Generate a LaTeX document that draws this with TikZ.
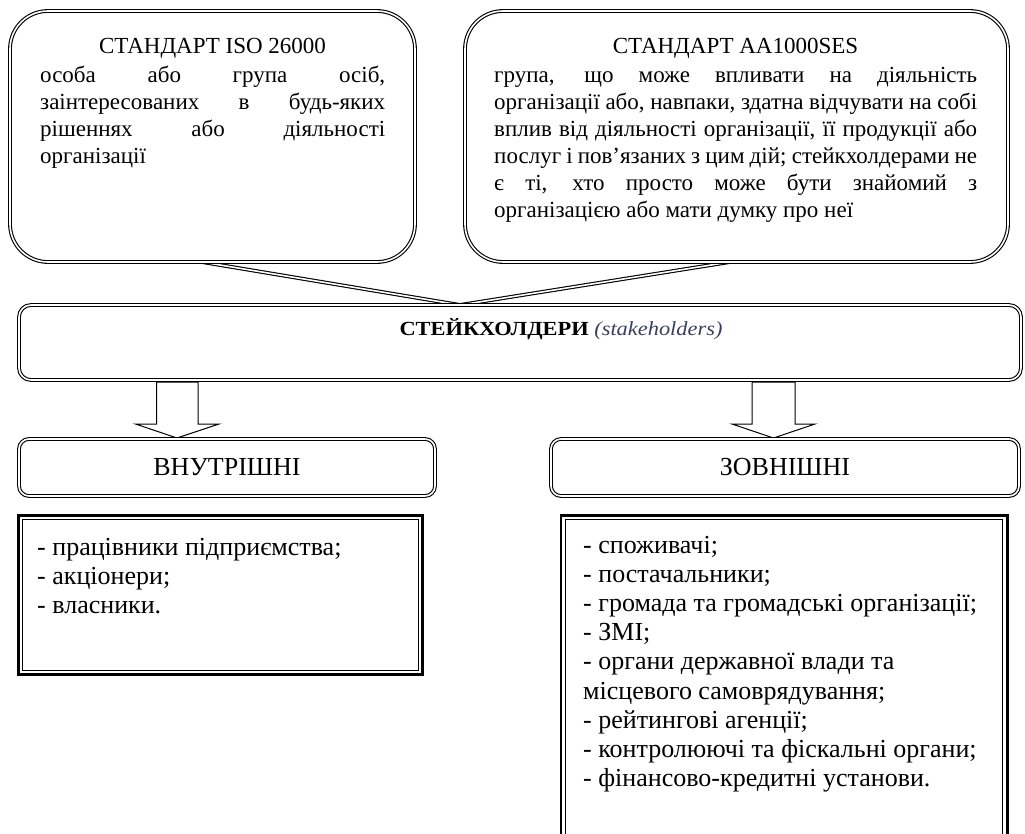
\documentclass[tikz,border=0pt]{standalone}
\usepackage{fontspec}
\usepackage{graphicx}
\setmainfont{Liberation Serif}
\usetikzlibrary{calc}
\definecolor{stkblue}{rgb}{0.22,0.25,0.38}
\newlength\jw
\newcommand\jline[1]{\hbox to\jw{#1}}
\newcommand\textlines[3]{\vtop{\baselineskip=#1\lineskiplimit=-100pt\lineskip=0pt\jw=#2\relax #3}}
\tikzset{
  dbl/.style={draw, line width=1.1pt, double=white, double distance=1.6pt, inner sep=0pt, outer sep=0pt},
  callout/.style={dbl, rounded corners=38pt},
  headbox/.style={dbl, rounded corners=10pt, font=\fontsize{26}{30}\selectfont},
  listbox/.style={draw, line width=2.6pt, inner sep=0pt, outer sep=0pt},
  blockarrow/.style={draw, line width=1pt, fill=white, line join=miter},
  bodytext/.style={inner sep=0pt, font=\fontsize{23}{27}\selectfont},
  listtext/.style={inner sep=0pt, font=\fontsize{26}{29}\selectfont}
}
\begin{document}
\begin{tikzpicture}[x=1pt,y=-1pt]
\clip (0,0) rectangle (1025,834);
\fill[white] (0,0) rectangle (1025,834);

% callout pointers
\coordinate (isoP) at (202,262);
\coordinate (aaP) at (730,262);
\coordinate (tip) at (460,305);
\draw[dbl, line join=miter] (isoP) -- (tip) -- (aaP);

% callouts
\node[callout, minimum width=405pt, minimum height=251pt] (iso) at (212.5,136.5) {};
\node[callout, minimum width=543pt, minimum height=251pt] (aa) at (736.5,136.5) {};

\node[bodytext, anchor=base] (isotitle) at (212.5,54) {СТАНДАРТ ISO 26000};
\node[bodytext, anchor=base west] (isobody) at (40,83) {\textlines{27pt}{345pt}{%
\jline{особа або група осіб,}%
\jline{заінтересованих в будь-яких}%
\jline{рішеннях або діяльності}%
\hbox{організації}}};

\node[bodytext, anchor=base] (aatitle) at (735.5,54) {СТАНДАРТ AA1000SES};
\node[bodytext, anchor=base west] (aabody) at (494,83) {\textlines{27pt}{483pt}{%
\jline{група, що може впливати на діяльність}%
\jline{організації або, навпаки, здатна відчувати на собі}%
\jline{вплив від діяльності організації, її продукції або}%
\jline{послуг і пов’язаних з цим дій; стейкхолдерами не}%
\jline{є ті, хто просто може бути знайомий з}%
\hbox{організацією або мати думку про неї}}};

% block arrows
\coordinate (inA) at (177,382);
\coordinate (inTip) at (177,438);
\draw[blockarrow] ($(inA)+(-20.5,0)$) -- ++(0,42) -- ++(-21,0) -- (inTip) -- ++(42,-14) -- ++(-21,0) -- ++(0,-42) -- cycle;
\coordinate (exA) at (773.5,382);
\coordinate (exTip) at (773.5,438);
\draw[blockarrow] ($(exA)+(-21.5,0)$) -- ++(0,42) -- ++(-20,0) -- (exTip) -- ++(41.5,-14) -- ++(-20,0) -- ++(0,-42) -- cycle;

% stakeholders box
\node[dbl, rounded corners=12pt, minimum width=1002pt, minimum height=75pt] (stk) at (520,342.5) {};
\node[inner sep=0pt, anchor=base, font=\fontsize{20}{24}\selectfont] (stktext) at (561,335)
  {\scalebox{1.12}[1]{\textbf{СТЕЙКХОЛДЕРИ} \textcolor{stkblue}{\itshape (stakeholders)}}};

% header boxes
\node[headbox, minimum width=416pt, minimum height=57pt] (inner) at (227,467.5) {ВНУТРІШНІ};
\node[headbox, minimum width=468pt, minimum height=57pt] (outer) at (785,467.5) {ЗОВНІШНІ};

% list boxes
\node[listbox, minimum width=404.4pt, minimum height=159.4pt] (inlist) at (220.5,595) {};
\draw[line width=1.1pt] ($(inlist.north west)+(4.3,4.3)$) rectangle ($(inlist.south east)+(-4.3,-4.3)$);
\node[listbox, minimum width=446.4pt, minimum height=344.7pt] (exlist) at (784,687.6) {};
\draw[line width=1.1pt] ($(exlist.north west)+(4.3,4.3)$) rectangle ($(exlist.south east)+(-4.3,-4.3)$);

\node[listtext, anchor=base west] (intext) at (37,555) {\textlines{29pt}{0pt}{%
\hbox{- працівники підприємства;}%
\hbox{- акціонери;}%
\hbox{- власники.}}};

\node[listtext, anchor=base west] (extext) at (583,553) {\textlines{29.2pt}{0pt}{%
\hbox{- споживачі;}%
\hbox{- постачальники;}%
\hbox{- громада та громадські організації;}%
\hbox{- ЗМІ;}%
\hbox{- органи державної влади та}%
\hbox{місцевого самоврядування;}%
\hbox{- рейтингові агенції;}%
\hbox{- контролюючі та фіскальні органи;}%
\hbox{- фінансово-кредитні установи.}}};
\end{tikzpicture}
\end{document}
